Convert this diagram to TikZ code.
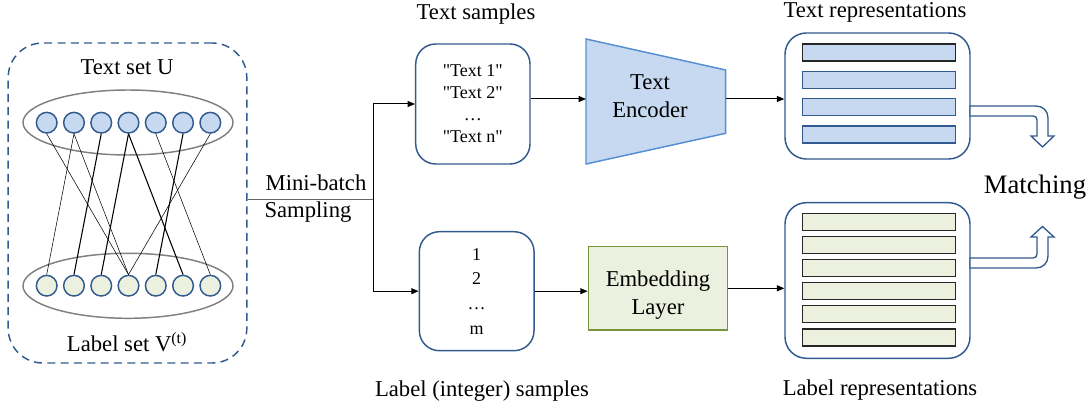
\documentclass[tikz,border=0pt]{standalone}
\usepackage{fontspec}
\setmainfont{Liberation Serif}
\newfontfamily\boxfont{Liberation Serif}
\usetikzlibrary{shapes.geometric,arrows.meta}
\definecolor{dblue}{RGB}{50,90,142}
\definecolor{lblue}{RGB}{198,217,240}
\definecolor{encblue}{RGB}{85,142,213}
\definecolor{lgreen}{RGB}{235,241,222}
\definecolor{olive}{RGB}{119,147,60}
\definecolor{ellgray}{RGB}{128,128,128}
\newcommand\capfont{\fontsize{17}{20}\selectfont}
\newcommand\capfontb{\fontsize{17}{21}\selectfont}
\newcommand\smallbox{\boxfont\fontsize{13.5}{16.5}\selectfont}
\begin{document}
\begin{tikzpicture}[x=0.75pt,y=-0.75pt,
  >={Triangle[length=5.5pt,width=4.5pt]},
  conn/.style={->,line width=0.75pt,black},
  caption/.style={font=\capfont,inner sep=0pt},
  dashbox/.style={draw=dblue,line width=1.1pt,dash pattern=on 6pt off 4pt,rounded corners=26pt,minimum width=179pt,minimum height=240pt},
  setell/.style={ellipse,draw=ellgray,line width=1.1pt,minimum width=157.5pt,minimum height=48.75pt,inner sep=0pt},
  ucirc/.style={circle,draw=dblue,fill=lblue,line width=1.1pt,minimum size=15.5pt,inner sep=0pt},
  vcirc/.style={circle,draw=dblue,fill=lgreen,line width=1.1pt,minimum size=15.5pt,inner sep=0pt},
  thinedge/.style={line width=0.4pt,black},
  thickedge/.style={line width=0.8pt,black},
  sampbox/.style={draw=dblue,line width=1.1pt,rounded corners=15pt,align=center,font=\smallbox,inner sep=0pt},
  repbox/.style={draw=dblue,line width=1.1pt,rounded corners=16pt,minimum width=138.75pt,inner sep=0pt},
  tbar/.style={draw=dblue,fill=lblue,line width=1.1pt,minimum width=115pt,minimum height=12.75pt,inner sep=0pt},
  lbar/.style={draw=black!85,fill=lgreen,line width=1.1pt,minimum width=115pt,minimum height=12.75pt,inner sep=0pt},
  uarrow/.style={draw=dblue,fill=white,line width=1pt,line join=miter}
]
\useasboundingbox (0,0) rectangle (1092,409);

% left: bipartite graph
\node[dashbox] (dbox) at (127.5,203) {};
\node[caption] (tsu) at (127,67) {Text set U};
\node[caption] (lsv) at (127,342) {Label set V\textsuperscript{(t)}};
\node[setell] (uell) at (128,122.5) {};
\node[setell] (vell) at (128,285.8) {};
\foreach \i in {0,...,6}{
  \node[ucirc] (u\i) at ({46.7+27.27*\i},122.7) {};
  \node[vcirc] (v\i) at ({46.7+27.27*\i},285.7) {};
}
\foreach \a/\b in {0/3,1/0,1/3,4/6,6/3}
  \draw[thinedge] (u\a.south) -- (v\b.north);
\foreach \a/\b in {2/1,3/2,3/5,5/4}
  \draw[thickedge] (u\a.south) -- (v\b.north);

% mini-batch sampling
\node[caption] (mb) at (316,183) {Mini-batch};
\node[caption] (samp) at (308,212) {Sampling};
\coordinate (split) at (373,200);
\draw[line width=0.75pt,black!60] (dbox.east |- split) -- (split);

% sample boxes
\node[sampbox,minimum width=85.7pt,minimum height=90pt] (tsbox) at (472.85,104)
  {"Text 1"\\"Text 2"\\…\\"Text n"};
\node[caption] (tslab) at (476,14) {Text samples};
\node[sampbox,minimum width=86pt,minimum height=89.25pt] (lsbox) at (476.7,291.2)
  {1\\[2pt]2\\[2pt]…\\[2pt]m};
\node[caption] (lslab) at (482,391) {Label (integer) samples};

\draw[line width=0.75pt,black!70] (split |- tsbox.west) -- (split |- lsbox.west);
\draw[conn] (split) |- (tsbox.west);
\draw[conn] (split) |- (lsbox.west);

% text encoder
\draw[draw=encblue,fill=lblue,line width=1.1pt] (586,39) -- (725.7,70) -- (725.7,133.3) -- (586,164) -- cycle;
\coordinate (encL) at (586,99);
\coordinate (encR) at (725.7,99);
\node[caption,align=center,font=\capfontb] (enc) at (650,96) {Text\\Encoder};

% embedding layer
\node[draw=olive,fill=lgreen,line width=1.1pt,minimum width=104.5pt,minimum height=62.5pt,inner sep=0pt] (emb) at (658,288.3) {};
\node[caption,align=center,font=\capfontb] (embtxt) at (658,295) {Embedding\\Layer};

% representations
\node[repbox,minimum height=94.5pt] (trep) at (877.5,96) {};
\node[caption] (trlab) at (875,12) {Text representations};
\node[tbar,draw=black!85] (tb0) at (879,52.7) {};
\foreach \k in {1,2,3}
  \node[tbar] (tb\k) at (879,{52.7+27.2*\k}) {};
\node[repbox,minimum height=116.7pt] (lrep) at (877.5,280.5) {};
\node[caption] (lrlab) at (880,390) {Label representations};
\foreach \k in {0,...,5}
  \node[lbar] (lb\k) at (879,{222+23.06*\k}) {};

% connectors
\draw[conn] (tsbox.east |- encL) -- (encL);
\draw[conn] (encR) -- (trep.west |- encR);
\draw[conn] (lsbox.east) -- (lsbox.east -| emb.west);
\draw[conn] (emb.east) -- (emb.east -| lrep.west);

% matching
\node[caption,font=\fontsize{20}{24}\selectfont] (match) at (1035,187) {Matching};
\draw[uarrow] (970,106) -- (1036,106) .. controls (1043,106) and (1048,111) .. (1048,118)
  -- (1048,136) -- (1054,136) -- (1042.5,147) -- (1031,136) -- (1037,136) -- (1037,120)
  .. controls (1037,117.5) and (1035.5,116) .. (1033,116) -- (970,116) -- cycle;
\draw[uarrow] (970,268) -- (1036,268) .. controls (1043,268) and (1048,263) .. (1048,256)
  -- (1048,237) -- (1054,237) -- (1042.5,226.5) -- (1031,237) -- (1037,237) -- (1037,254)
  .. controls (1037,256.5) and (1035.5,258) .. (1033,258) -- (970,258) -- cycle;
\end{tikzpicture}
\end{document}
